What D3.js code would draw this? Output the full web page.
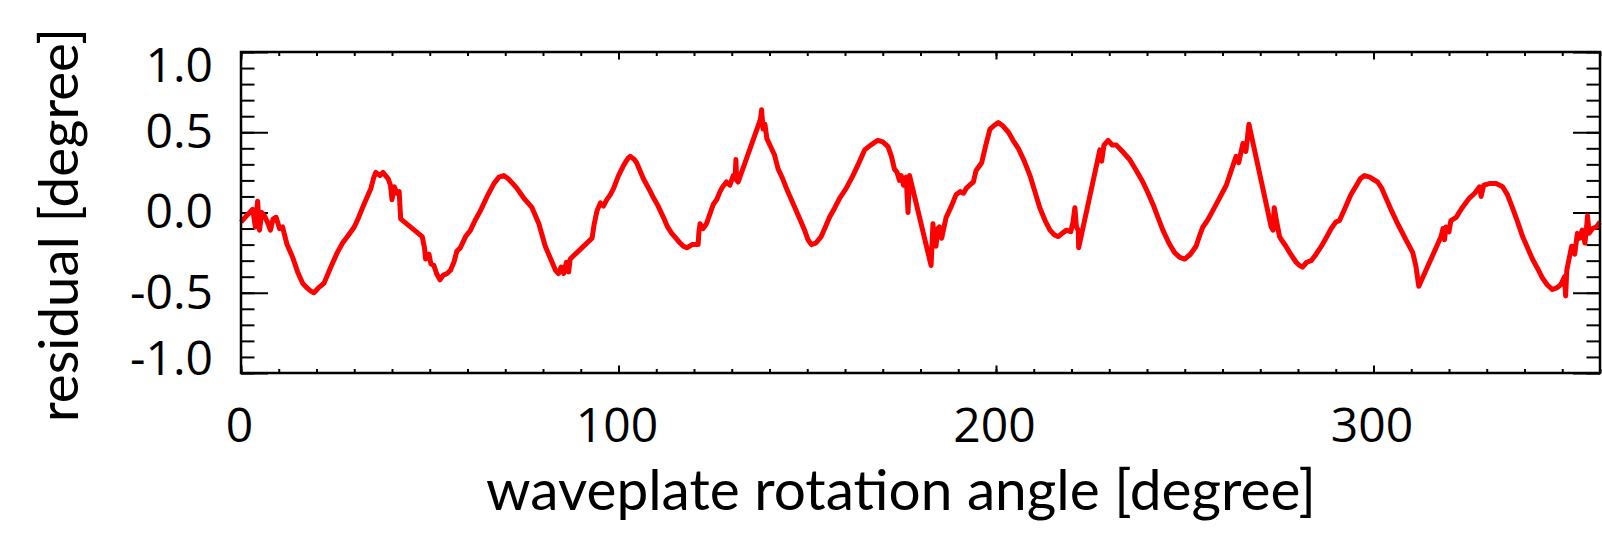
<!DOCTYPE html>
<html>
<head>
<meta charset="utf-8">
<script src="https://cdn.jsdelivr.net/npm/d3@7"></script>
<style>
  body { margin: 0; background: #fff; }
  .tick line { stroke: #000; stroke-width: 2; }
</style>
</head>
<body>
<svg id="chart"></svg>
<script>
// waveplate angle (deg) and residual (deg)
const angle = [
  0.0, 1.5, 3.1, 3.8, 4.4, 4.9, 5.5, 6.2, 7.0, 7.8, 8.5, 9.3, 10.2, 11.0, 12.2, 13.7, 15.0, 16.3, 17.5, 18.5,
  19.3, 20.5, 22.0, 23.8, 25.5, 26.9, 28.5, 30.0, 31.0, 32.2, 33.3, 34.4, 35.2, 35.7, 36.8, 37.6, 38.3, 39.0, 39.6, 40.0,
  40.6, 41.3, 41.9, 42.3, 48.0, 48.6, 48.9, 49.8, 50.3, 51.1, 51.8, 52.7, 53.6, 54.6, 55.5, 56.4, 57.2, 58.1, 59.5, 60.8,
  62.0, 63.4, 65.2, 67.0, 68.3, 69.6, 70.8, 72.0, 73.1, 74.9, 76.0, 77.1, 78.0, 78.9, 80.6, 82.4, 83.3, 84.1, 84.8, 85.5,
  86.2, 86.8, 87.2, 93.0, 93.5, 94.3, 95.2, 96.0, 96.9, 97.8, 98.7, 100.0, 101.5, 102.6, 103.1, 104.2, 104.8, 106.6, 108.0, 109.3,
  110.5, 111.9, 113.0, 114.1, 115.2, 116.3, 117.2, 118.1, 119.5, 121.1, 121.3, 121.6, 122.4, 123.3, 124.2, 125.1, 126.0, 126.9, 127.6, 128.6,
  129.5, 130.4, 130.9, 131.1, 131.3, 131.7, 137.6, 137.9, 138.3, 138.8, 139.3, 140.5, 141.3, 142.3, 143.5, 144.5, 145.8, 147.1, 148.2, 149.3,
  150.2, 151.1, 152.3, 153.7, 154.8, 155.9, 157.3, 158.6, 160.3, 162.1, 163.5, 165.2, 166.8, 168.7, 170.0, 171.4, 172.3, 173.1, 173.8, 174.4,
  174.9, 175.5, 176.2, 176.7, 177.1, 182.8, 183.3, 183.7, 184.1, 184.6, 185.0, 185.6, 186.8, 188.0, 189.4, 190.5, 191.4, 192.1, 193.0, 194.0,
  194.7, 196.2, 197.3, 198.4, 199.4, 200.6, 201.8, 203.3, 204.5, 205.9, 207.5, 209.0, 210.3, 211.6, 213.0, 214.3, 215.5, 216.5, 217.5, 218.7,
  219.8, 220.4, 220.9, 221.3, 221.8, 221.9, 227.5, 228.0, 228.6, 229.7, 230.8, 231.9, 233.5, 235.4, 237.2, 238.9, 240.3, 241.6, 242.9, 244.2,
  245.8, 247.3, 248.7, 250.0, 251.5, 253.0, 254.0, 254.8, 256.0, 257.4, 259.2, 261.0, 262.3, 263.6, 264.3, 265.4, 266.2, 267.0, 272.9, 273.4,
  273.7, 274.3, 275.1, 275.6, 276.8, 277.8, 279.5, 280.4, 281.2, 282.3, 283.5, 284.8, 286.2, 287.4, 288.8, 290.0, 291.0, 292.5, 294.0, 295.5,
  296.5, 297.6, 299.0, 301.1, 302.2, 303.3, 304.8, 306.4, 307.5, 308.6, 309.5, 310.4, 311.2, 312.0, 317.9, 318.4, 318.8, 319.2, 320.0, 320.5,
  321.9, 323.5, 325.4, 326.8, 328.1, 328.5, 329.2, 330.7, 332.5, 334.2, 335.5, 336.8, 338.2, 339.5, 340.8, 342.1, 343.5, 344.8, 346.0, 347.4,
  348.5, 349.6, 350.6, 350.9, 351.2, 351.8, 352.5, 353.3, 354.0, 354.6, 355.3, 356.0, 356.5, 356.7, 357.1, 358.0, 359.0, 360.0
];
const residual = [
  -0.06, -0.02, 0.02, -0.09, 0.07, -0.11, 0.00, -0.02, -0.06, -0.11, -0.04, -0.03, -0.10, -0.09, -0.20, -0.28, -0.37, -0.44, -0.47, -0.49,
  -0.50, -0.47, -0.44, -0.34, -0.25, -0.19, -0.14, -0.09, -0.04, 0.03, 0.09, 0.15, 0.22, 0.25, 0.23, 0.25, 0.23, 0.21, 0.17, 0.08,
  0.16, 0.12, 0.13, -0.04, -0.15, -0.22, -0.29, -0.26, -0.32, -0.33, -0.38, -0.42, -0.39, -0.38, -0.36, -0.31, -0.24, -0.22, -0.15, -0.11,
  -0.05, 0.01, 0.10, 0.18, 0.22, 0.23, 0.21, 0.18, 0.15, 0.09, 0.06, 0.03, -0.02, -0.07, -0.21, -0.31, -0.36, -0.38, -0.34, -0.38,
  -0.31, -0.37, -0.29, -0.16, -0.08, 0.01, 0.06, 0.04, 0.08, 0.11, 0.15, 0.23, 0.30, 0.34, 0.35, 0.33, 0.31, 0.21, 0.15, 0.09,
  0.04, -0.03, -0.09, -0.13, -0.16, -0.19, -0.21, -0.22, -0.20, -0.20, -0.12, -0.07, -0.10, -0.07, -0.01, 0.05, 0.08, 0.13, 0.16, 0.19,
  0.17, 0.23, 0.22, 0.33, 0.20, 0.19, 0.58, 0.64, 0.52, 0.55, 0.46, 0.40, 0.36, 0.27, 0.21, 0.15, 0.08, 0.01, -0.05, -0.11,
  -0.17, -0.20, -0.19, -0.15, -0.09, -0.03, 0.03, 0.09, 0.15, 0.23, 0.30, 0.39, 0.42, 0.45, 0.44, 0.41, 0.35, 0.27, 0.25, 0.20,
  0.23, 0.17, 0.22, 0.00, 0.23, -0.33, -0.07, -0.18, -0.21, -0.10, -0.09, -0.16, -0.03, 0.03, 0.11, 0.13, 0.12, 0.15, 0.17, 0.19,
  0.26, 0.31, 0.42, 0.52, 0.54, 0.56, 0.54, 0.50, 0.45, 0.40, 0.32, 0.23, 0.13, 0.03, -0.05, -0.11, -0.14, -0.15, -0.13, -0.11,
  -0.12, -0.06, 0.03, -0.09, -0.11, -0.22, 0.39, 0.32, 0.42, 0.45, 0.42, 0.42, 0.38, 0.33, 0.26, 0.19, 0.12, 0.05, -0.03, -0.11,
  -0.19, -0.25, -0.28, -0.29, -0.26, -0.21, -0.14, -0.09, -0.05, 0.01, 0.09, 0.17, 0.26, 0.35, 0.31, 0.43, 0.38, 0.55, -0.09, -0.11,
  0.03, -0.05, -0.15, -0.17, -0.21, -0.25, -0.31, -0.33, -0.34, -0.31, -0.30, -0.26, -0.21, -0.16, -0.10, -0.06, -0.05, 0.03, 0.11, 0.17,
  0.21, 0.23, 0.22, 0.19, 0.15, 0.09, 0.01, -0.07, -0.12, -0.17, -0.21, -0.25, -0.33, -0.46, -0.15, -0.10, -0.17, -0.09, -0.12, -0.05,
  -0.03, 0.03, 0.09, 0.12, 0.16, 0.10, 0.17, 0.18, 0.18, 0.16, 0.11, 0.03, -0.06, -0.15, -0.22, -0.29, -0.35, -0.41, -0.45, -0.48,
  -0.47, -0.45, -0.40, -0.52, -0.36, -0.29, -0.21, -0.26, -0.13, -0.16, -0.11, -0.19, -0.08, -0.02, -0.13, -0.10, -0.09, -0.06
];

const xMajor = [0, 100, 200, 300];
const yMajor = [-1.0, -0.5, 0.0, 0.5, 1.0];
const yLabels = ["-1.0", "-0.5", "0.0", "0.5", "1.0"];
const xTitle = "waveplate rotation angle [degree]";
const yTitle = "residual [degree]";

const width = 1602, height = 540;
const margin = {top: 52, right: 2, bottom: 167, left: 241};
const x0 = margin.left, x1 = width - margin.right;
const y0 = margin.top, y1 = height - margin.bottom;

const svg = d3.select("#chart").attr("width", width).attr("height", height);

const x = d3.scaleLinear().domain([0, 360]).range([x0, x1]);
const y = d3.scaleLinear().domain([-1, 1]).range([y1, y0]);

const xMinor = d3.range(0, 361, 10);
const yMinor = d3.range(-10, 11).map(d => d / 10);

const tickFont = "'Open Sans', sans-serif";
const titleFont = "Lato, 'Open Sans', sans-serif";

function clean(g) {
  g.select(".domain").remove();
}

// minor ticks on all four sides
svg.append("g").attr("transform", `translate(0,${y1})`)
  .call(d3.axisBottom(x).tickValues(xMinor).tickSize(-4).tickFormat("")).call(clean);
svg.append("g").attr("transform", `translate(0,${y0})`)
  .call(d3.axisTop(x).tickValues(xMinor).tickSize(-4).tickFormat("")).call(clean);
svg.append("g").attr("transform", `translate(${x0},0)`)
  .call(d3.axisLeft(y).tickValues(yMinor).tickSize(-13.5).tickFormat("")).call(clean);
svg.append("g").attr("transform", `translate(${x1},0)`)
  .call(d3.axisRight(y).tickValues(yMinor).tickSize(-13.5).tickFormat("")).call(clean);

// major ticks + labels
const xAxis = svg.append("g").attr("transform", `translate(0,${y1})`)
  .call(d3.axisBottom(x).tickValues(xMajor).tickSize(-7.5).tickPadding(35).tickFormat(d3.format("d")))
  .call(clean);
svg.append("g").attr("transform", `translate(0,${y0})`)
  .call(d3.axisTop(x).tickValues(xMajor).tickSize(-7.5).tickFormat("")).call(clean);
const yAxis = svg.append("g").attr("transform", `translate(${x0},0)`)
  .call(d3.axisLeft(y).tickValues(yMajor).tickSize(-27).tickPadding(28).tickFormat((d, i) => yLabels[i]))
  .call(clean);
svg.append("g").attr("transform", `translate(${x1},0)`)
  .call(d3.axisRight(y).tickValues(yMajor).tickSize(-27).tickFormat("")).call(clean);

[xAxis, yAxis].forEach(a => a.selectAll("text")
  .attr("font-family", tickFont).attr("font-size", 48).attr("fill", "#000"));
xAxis.selectAll("text").attr("dx", -2);
// end labels sit inside the frame
yAxis.selectAll("text").filter(d => d === 1.0).attr("y", 14);
yAxis.selectAll("text").filter(d => d === -1.0).attr("y", -14);

// data line
const line = d3.line()
  .x((d, i) => x(angle[i]))
  .y((d, i) => y(residual[i]));

svg.append("path")
  .datum(angle)
  .attr("d", line)
  .attr("fill", "none")
  .attr("stroke", "#ff0000")
  .attr("stroke-width", 5)
  .attr("stroke-linejoin", "round");

// frame
svg.append("rect")
  .attr("x", x0).attr("y", y0)
  .attr("width", x1 - x0).attr("height", y1 - y0)
  .attr("fill", "none").attr("stroke", "#000").attr("stroke-width", 2.5);

// titles, sized to span the same width as the reference
function fit(t, target) {
  const w = t.node().getComputedTextLength();
  t.attr("font-size", 60 * target / w);
}

const xt = svg.append("text")
  .attr("x", 901).attr("y", 510)
  .attr("text-anchor", "middle")
  .attr("font-family", titleFont).attr("font-size", 60)
  .text(xTitle);
fit(xt, 830);

const yt = svg.append("text")
  .attr("transform", "translate(78,225) rotate(-90)")
  .attr("text-anchor", "middle")
  .attr("font-family", titleFont).attr("font-size", 60)
  .text(yTitle);
fit(yt, 394);
</script>
</body>
</html>
